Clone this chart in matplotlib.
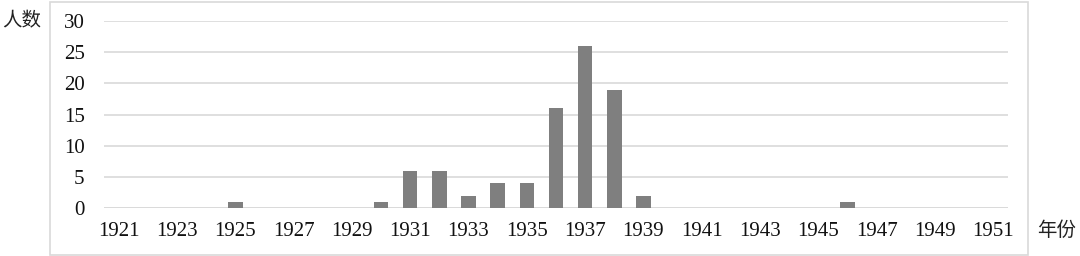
import matplotlib
matplotlib.use("Agg")
import matplotlib.pyplot as plt
from matplotlib.patches import Rectangle

years = list(range(1921, 1952))
counts = [0, 0, 0, 0, 1, 0, 0, 0, 0, 1, 6, 6, 2, 4, 4, 16, 26, 19, 2,
          0, 0, 0, 0, 0, 0, 1, 0, 0, 0, 0, 0]
yticks = [0, 5, 10, 15, 20, 25, 30]
xlabel_years = years[::2]

plt.rcParams['font.family'] = ['Liberation Serif', 'Noto Sans CJK SC', 'DejaVu Sans']

W, H = 1080, 256
fig = plt.figure(figsize=(W / 100, H / 100), dpi=100)
fig.patches.append(Rectangle((50 / W, 1 / H), (1028 - 50) / W, (254 - 1) / H,
                             transform=fig.transFigure, fill=False,
                             edgecolor='#d9d9d9', linewidth=1.2))

ax = fig.add_axes([104 / W, 1 - 208 / H, (1008 - 104) / W, (208 - 21) / H])
x = list(range(len(years)))
ax.bar(x, counts, width=0.5, color='#7f7f7f', zorder=3)
ax.set_xlim(-0.5, len(years) - 0.5)
ax.set_ylim(0, 30)
ax.set_yticks(yticks)
ax.set_yticklabels([str(v) for v in yticks], fontsize=15)
ax.set_xticks([years.index(y) for y in xlabel_years])
ax.set_xticklabels([str(y) for y in xlabel_years], fontsize=15)
ax.tick_params(axis='both', length=0, colors='#111111')
ax.tick_params(axis='y', pad=14)
ax.tick_params(axis='x', pad=10)
ax.grid(axis='y', color='#d9d9d9', linewidth=1.2, zorder=0)
for s in ax.spines.values():
    s.set_visible(False)
ax.axhline(0, color='#d9d9d9', linewidth=1.2, zorder=2)

fig.text(22 / W, 1 - 21 / H, '人数', ha='center', va='center', fontsize=14,
         family=['Noto Sans CJK SC', 'DejaVu Sans'], color='#222222')
fig.text(1057 / W, 1 - 230 / H, '年份', ha='center', va='center', fontsize=14,
         family=['Noto Sans CJK SC', 'DejaVu Sans'], color='#222222')

fig.savefig('out.png', dpi=100)
